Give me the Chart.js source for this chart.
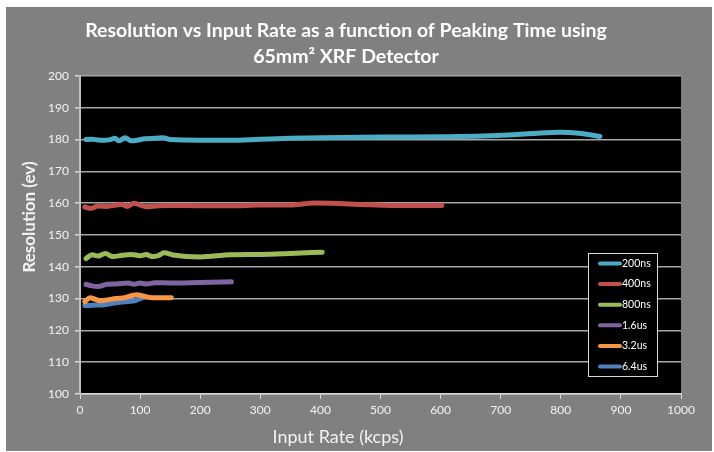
<!DOCTYPE html>
<html>
<head>
<meta charset="utf-8">
<script src="https://cdn.jsdelivr.net/npm/chart.js@4.4.1/dist/chart.umd.min.js"></script>
<style>
  html, body { margin: 0; padding: 0; background: #ffffff; }
  #wrap { width: 714px; height: 452px; position: relative; }
</style>
</head>
<body>
<div id="wrap"><canvas id="c" width="714" height="452"></canvas></div>
<script>
const titleLines = ["Resolution vs Input Rate as a function of Peaking Time using", "65mm\u00B2 XRF Detector"];
const xTitle = "Input Rate (kcps)";
const yTitle = "Resolution (ev)";
const seriesNames = ["200ns", "400ns", "800ns", "1.6us", "3.2us", "6.4us"];
const seriesColors = ["#4bacc6", "#c0504d", "#9bbb59", "#8064a2", "#f79646", "#4f81bd"];

const x200ns = [10, 20, 30, 40, 50, 58, 65, 75, 85, 95, 108, 125, 138, 150, 200, 250, 300, 350, 400, 500, 600, 670, 720, 760, 800, 830, 865];
const y200ns = [180.0, 180.1, 179.9, 179.8, 180.0, 180.4, 179.6, 180.6, 179.6, 179.8, 180.3, 180.4, 180.6, 180.0, 179.8, 179.8, 180.1, 180.4, 180.6, 180.8, 180.9, 181.1, 181.5, 182.0, 182.3, 182.0, 181.0];

const x400ns = [8, 18, 30, 45, 60, 70, 78, 90, 100, 110, 130, 150, 200, 250, 300, 350, 390, 420, 470, 520, 602];
const y400ns = [158.8, 158.4, 159.1, 159.0, 159.4, 159.6, 159.0, 160.0, 159.4, 158.9, 159.2, 159.3, 159.2, 159.2, 159.4, 159.4, 160.1, 160.0, 159.6, 159.3, 159.3];

const x800ns = [10, 20, 30, 42, 55, 70, 85, 100, 110, 120, 130, 140, 155, 200, 250, 300, 350, 403];
const y800ns = [142.6, 143.8, 143.4, 144.2, 143.2, 143.6, 143.9, 143.5, 143.9, 143.2, 143.5, 144.4, 143.7, 143.1, 143.8, 143.9, 144.2, 144.6];

const x16us = [10, 20, 30, 45, 60, 80, 90, 100, 110, 125, 150, 200, 252];
const y16us = [134.5, 134.0, 133.8, 134.5, 134.6, 134.9, 134.5, 134.9, 134.6, 135.0, 134.9, 135.1, 135.3];

const x32us = [8, 17, 25, 33, 45, 60, 75, 85, 95, 105, 120, 135, 152];
const y32us = [129.0, 130.3, 129.8, 129.3, 129.6, 130.0, 130.3, 130.9, 131.2, 130.8, 130.3, 130.3, 130.3];

const x64us = [8, 20, 30, 40, 50, 60, 70, 80, 90, 97, 103];
const y64us = [127.8, 127.9, 128.0, 128.1, 128.4, 128.7, 128.9, 129.1, 129.3, 129.8, 130.2];

const xTicksMin = 0, xTicksMax = 1000, xStep = 100;
const yTicksMin = 100, yTicksMax = 200, yStep = 10;

const xs = [x200ns, x400ns, x800ns, x16us, x32us, x64us];
const ys = [y200ns, y400ns, y800ns, y16us, y32us, y64us];

const datasets = seriesNames.map((name, i) => ({
  label: name,
  data: xs[i].map((x, j) => ({ x: x, y: ys[i][j] })),
  borderColor: seriesColors[i],
  backgroundColor: seriesColors[i],
  borderWidth: 5,
  pointRadius: 0,
  showLine: true,
  tension: 0.4,
  cubicInterpolationMode: 'monotone',
  borderCapStyle: 'round',
  borderJoinStyle: 'round'
}));

const FONT = "Lato, 'Open Sans', sans-serif";

const decor = {
  id: 'decor',
  beforeDraw(chart) {
    const ctx = chart.ctx;
    const a = chart.chartArea;
    ctx.save();
    ctx.fillStyle = '#ffffff';
    ctx.fillRect(0, 0, chart.width, chart.height);
    ctx.fillStyle = '#808080';
    ctx.fillRect(6, 7, 706, 444);
    ctx.fillStyle = '#000000';
    ctx.fillRect(a.left, a.top, a.right - a.left, a.bottom - a.top);
    ctx.restore();
  },
  afterDraw(chart) {
    const ctx = chart.ctx;
    ctx.save();
    // title
    ctx.fillStyle = '#ffffff';
    ctx.font = "bold 19.5px " + FONT;
    ctx.textAlign = 'center';
    ctx.textBaseline = 'middle';
    ctx.fillText(titleLines[0], 346, 31);
    ctx.fillText(titleLines[1], 346, 57);
    // x title
    ctx.font = "18px " + FONT;
    ctx.fillStyle = '#f2f2f2';
    ctx.fillText(xTitle, 338, 437);
    // y title
    ctx.save();
    ctx.translate(30, 217);
    ctx.rotate(-Math.PI / 2);
    ctx.font = "bold 17px " + FONT;
    ctx.fillStyle = '#f2f2f2';
    ctx.fillText(yTitle, 0, 0);
    ctx.restore();
    // legend
    const lx = 588, ly = 253, lw = 69, lh = 123;
    ctx.fillStyle = '#000000';
    ctx.fillRect(lx, ly, lw, lh);
    ctx.strokeStyle = '#d9d9d9';
    ctx.lineWidth = 1;
    ctx.strokeRect(lx + 0.5, ly + 0.5, lw, lh);
    ctx.font = "10.5px " + FONT;
    ctx.textAlign = 'left';
    chart.data.datasets.forEach((ds, i) => {
      const yy = 263.5 + i * 20.6;
      ctx.strokeStyle = ds.borderColor;
      ctx.lineWidth = 4;
      ctx.lineCap = 'round';
      ctx.beginPath();
      ctx.moveTo(600, yy);
      ctx.lineTo(620, yy);
      ctx.stroke();
      ctx.fillStyle = '#ffffff';
      ctx.fillText(ds.label, 622, yy);
    });
    ctx.restore();
  }
};

new Chart(document.getElementById('c'), {
  type: 'scatter',
  data: { datasets: datasets },
  options: {
    responsive: false,
    animation: false,
    devicePixelRatio: 1,
    layout: { padding: { left: 0, top: 76, right: 33, bottom: 0 } },
    plugins: {
      legend: { display: false },
      title: { display: false },
      tooltip: { enabled: false }
    },
    scales: {
      x: {
        type: 'linear',
        min: xTicksMin, max: xTicksMax,
        afterFit(s) { s.height = 58; },
        ticks: { stepSize: xStep, color: '#f2f2f2', font: { family: FONT, size: 12 }, padding: 4, maxRotation: 0,
                 callback: (v) => String(v) },
        grid: { drawOnChartArea: false, drawTicks: true, tickLength: 5, tickColor: '#d9d9d9' },
        border: { color: '#d9d9d9', width: 1.5 }
      },
      y: {
        type: 'linear',
        min: yTicksMin, max: yTicksMax,
        afterFit(s) { s.width = 80; },
        ticks: { stepSize: yStep, color: '#f2f2f2', font: { family: FONT, size: 12 }, padding: 6,
                 callback: (v) => String(v) },
        grid: { color: '#a6a6a6', lineWidth: 1.5, drawTicks: true, tickLength: 5, tickColor: '#d9d9d9' },
        border: { color: '#bfbfbf', width: 2 }
      }
    }
  },
  plugins: [decor]
});
</script>
</body>
</html>
